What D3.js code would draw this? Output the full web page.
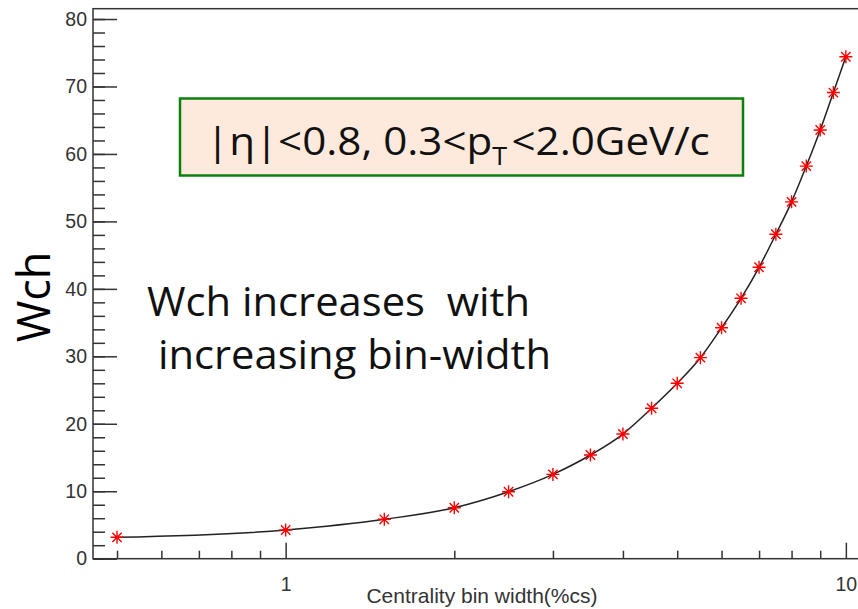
<!DOCTYPE html>
<html>
<head>
<meta charset="utf-8">
<script src="https://d3js.org/d3.v7.min.js"></script>
<style>
  body { margin: 0; background: #fff; }
  svg { display: block; }
</style>
</head>
<body>
<div id="chart"></div>
<script>
// centrality bin width (%cs) and Wch
const binWidth = [0.5, 1, 1.5, 2, 2.5, 3, 3.5, 4, 4.5, 5, 5.5, 6, 6.5, 7, 7.5, 8, 8.5, 9, 9.5, 10];
const wch = [3.17, 4.25, 5.84, 7.56, 9.93, 12.5, 15.37, 18.48, 22.3, 26.0, 29.8, 34.24, 38.6, 43.2, 48.1, 52.9, 58.2, 63.55, 69.1, 74.4];

const xMajorTicks = [1, 10];
const xMinorTicks = [0.5, 0.6, 0.7, 0.8, 0.9, 2, 3, 4, 5, 6, 7, 8, 9];
const yMajorTicks = [0, 10, 20, 30, 40, 50, 60, 70, 80];
const yMinorTicks = d3.range(0, 82, 2);
const xRange = [0.453, 11];
const yRange = [0, 81.53];

const W = 858, H = 609;
const plotLeft = 93, plotTop = 8.7, plotBottom = 558.7;
const decadePx = 560.2;

const svg = d3.select("#chart").append("svg")
    .attr("width", W)
    .attr("height", H);

const x = d3.scaleLog()
    .domain(xRange)
    .range([plotLeft, plotLeft + decadePx * Math.log10(xRange[1] / xRange[0])]);

const y = d3.scaleLinear()
    .domain(yRange)
    .range([plotBottom, plotTop]);

const axisColor = "#333";
const tickFont = "'Liberation Sans', Arial, sans-serif";
const noteFont = "'Open Sans', sans-serif";

// y axis: minor then major ticks, pointing into the frame
svg.append("g")
    .attr("transform", `translate(${plotLeft},0)`)
    .call(d3.axisLeft(y).tickValues(yMinorTicks).tickSizeInner(-12).tickSizeOuter(0).tickFormat(""))
    .call(g => g.select(".domain").remove());

svg.append("g")
    .attr("transform", `translate(${plotLeft},0)`)
    .call(d3.axisLeft(y).tickValues(yMajorTicks).tickSizeInner(-24).tickSizeOuter(0).tickPadding(6))
    .call(g => g.select(".domain").remove())
    .call(g => g.selectAll("text").style("font-family", tickFont).style("font-size", "19.5px").attr("fill", axisColor));

// x axis (log)
svg.append("g")
    .attr("transform", `translate(0,${plotBottom})`)
    .call(d3.axisBottom(x).tickValues(xMinorTicks).tickSizeInner(-8).tickSizeOuter(0).tickFormat(""))
    .call(g => g.select(".domain").remove());

svg.append("g")
    .attr("transform", `translate(0,${plotBottom})`)
    .call(d3.axisBottom(x).tickValues(xMajorTicks).tickSizeInner(-16).tickSizeOuter(0).tickPadding(18).tickFormat(d3.format("d")))
    .call(g => g.select(".domain").remove())
    .call(g => g.selectAll("text").style("font-family", tickFont).style("font-size", "19.5px").attr("fill", axisColor));

svg.selectAll(".tick line").attr("stroke", axisColor).attr("stroke-width", 1.5);

// frame
svg.append("rect")
    .attr("x", x(xRange[0]))
    .attr("y", y(yRange[1]))
    .attr("width", x(xRange[1]) - x(xRange[0]))
    .attr("height", y(yRange[0]) - y(yRange[1]))
    .attr("fill", "none")
    .attr("stroke", axisColor)
    .attr("stroke-width", 1.5);

// axis titles
svg.append("text")
    .attr("x", 482)
    .attr("y", 603)
    .attr("text-anchor", "middle")
    .style("font-family", tickFont)
    .style("font-size", "21px")
    .attr("fill", axisColor)
    .text("Centrality bin width(%cs)");

svg.append("text")
    .attr("transform", "translate(50,297) rotate(-90)")
    .attr("text-anchor", "middle")
    .style("font-family", noteFont)
    .style("font-size", "45px")
    .attr("fill", "#000")
    .text("Wch");

// curve through the points
const line = d3.line()
    .x((d, i) => x(binWidth[i]))
    .y(d => y(d))
    .curve(d3.curveMonotoneX);

svg.append("path")
    .datum(wch)
    .attr("d", line)
    .attr("fill", "none")
    .attr("stroke", "#222")
    .attr("stroke-width", 1.5);

// red asterisk markers
const r = 6.5;
const k = r * 0.72;
const star = `M${-r},0L${r},0M0,${-r}L0,${r}M${-k},${-k}L${k},${k}M${-k},${k}L${k},${-k}`;
svg.append("g")
    .selectAll("path")
    .data(wch)
    .join("path")
    .attr("transform", (d, i) => `translate(${x(binWidth[i])},${y(d)})`)
    .attr("d", star)
    .attr("fill", "none")
    .attr("stroke", "#ff0000")
    .attr("stroke-width", 1.4);

// annotation box
svg.append("rect")
    .attr("x", 180)
    .attr("y", 98.5)
    .attr("width", 563)
    .attr("height", 77)
    .attr("fill", "#fdeadc")
    .attr("stroke", "#0c800c")
    .attr("stroke-width", 2.5);

const boxX = 206, boxTextW = 504;
const boxText = svg.append("text")
    .attr("x", 0)
    .attr("y", 0)
    .style("font-family", noteFont)
    .style("font-size", "39px")
    .attr("fill", "#111");
boxText.append("tspan").text("|η|<0.8, 0.3<p");
boxText.append("tspan").attr("dy", 10).style("font-size", "25px").text("T");
boxText.append("tspan").attr("dy", -10).attr("dx", 4).text("<2.0GeV/c");

// stretch sideways so the line spans the same width as in the picture
const bb = boxText.node().getBBox();
const sx = boxTextW / bb.width;
boxText.attr("transform", `translate(${boxX - bb.x * sx},155) scale(${sx},1)`);

// note text
const note = [
    { text: "Wch increases  with", x: 147, y: 316, w: 383 },
    { text: "increasing bin-width", x: 158, y: 369, w: 393 }
];
svg.selectAll(".note")
    .data(note)
    .join("text")
    .attr("class", "note")
    .attr("x", d => d.x)
    .attr("y", d => d.y)
    .attr("textLength", d => d.w)
    .attr("lengthAdjust", "spacingAndGlyphs")
    .style("white-space", "pre")
    .style("font-family", noteFont)
    .style("font-size", "41px")
    .attr("fill", "#111")
    .text(d => d.text);
</script>
</body>
</html>
